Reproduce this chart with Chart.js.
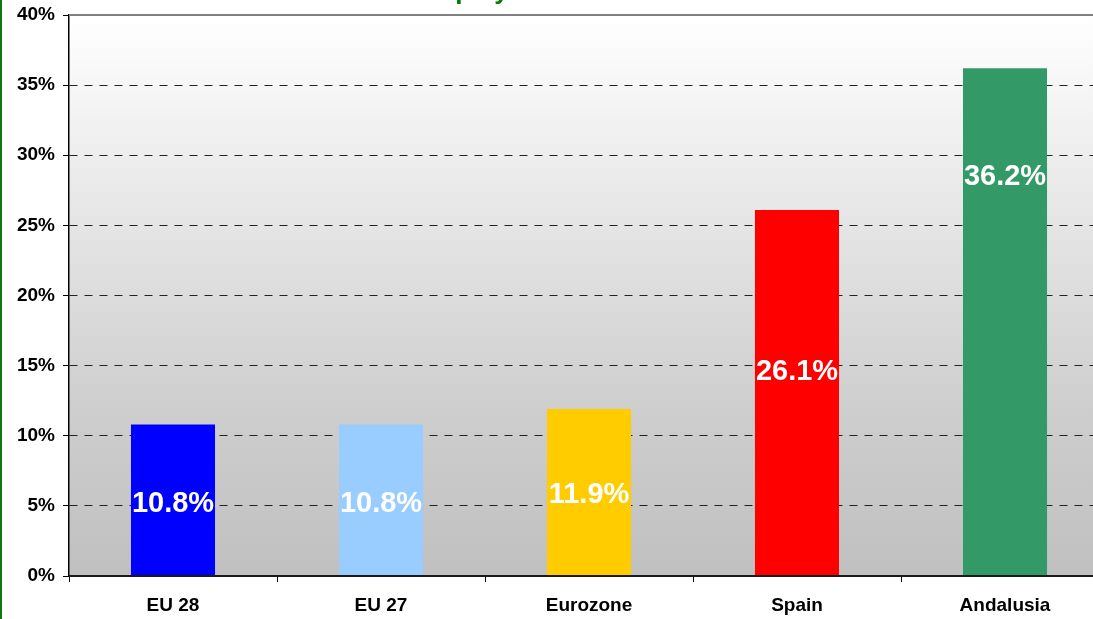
<!DOCTYPE html>
<html lang="en">
  <head>
    <meta charset="UTF-8" />
    <title>Unemployment rate</title>
    <script src="https://cdn.jsdelivr.net/npm/chart.js@4"></script>
    <style>
      body { margin: 0; overflow: hidden; background: #fff; }
      #wrap { position: relative; width: 1093px; height: 619px; overflow: hidden; }
      #edge { position: absolute; left: 0; top: 0; width: 2px; height: 619px; background: #0b7a0b; }
    </style>
  </head>
  <body>
    <div id="wrap">
      <canvas id="myChart" width="1120" height="619"></canvas>
      <div id="edge"></div>
    </div>

    <script>
      const regions = ['EU 28', 'EU 27', 'Eurozone', 'Spain', 'Andalusia'];
      const rates = [10.8, 10.8, 11.9, 26.1, 36.2];
      const barColors = ['#0000ff', '#99ccff', '#ffcc00', '#ff0000', '#339966'];
      const yTicks = [0, 5, 10, 15, 20, 25, 30, 35, 40];

      const fontFamily = 'Arial, "Liberation Sans", sans-serif';

      // gray-to-white backdrop, top border, axis line, value labels and the cut-off title
      const decor = {
        id: 'decor',
        beforeDraw(chart) {
          const { ctx, chartArea: a } = chart;
          const g = ctx.createLinearGradient(0, a.top, 0, a.bottom);
          g.addColorStop(0, '#ffffff');
          g.addColorStop(0.7, '#cecece');
          g.addColorStop(1, '#c0c0c0');
          ctx.save();
          ctx.fillStyle = g;
          ctx.fillRect(a.left, a.top, a.right - a.left, a.bottom - a.top);
          ctx.restore();
        },
        afterDraw(chart, args, opts) {
          const { ctx, chartArea: a } = chart;
          ctx.save();
          ctx.strokeStyle = '#808080';
          ctx.lineWidth = 2;
          ctx.beginPath();
          ctx.moveTo(a.left, a.top);
          ctx.lineTo(a.right, a.top);
          ctx.stroke();

          ctx.strokeStyle = '#1a1a1a';
          ctx.lineWidth = 2;
          ctx.beginPath();
          ctx.moveTo(a.left, a.bottom);
          ctx.lineTo(a.right, a.bottom);
          ctx.stroke();

          const meta = chart.getDatasetMeta(0);
          const y = chart.scales.y;
          ctx.fillStyle = '#ffffff';
          ctx.font = 'bold 29px ' + fontFamily;
          ctx.textAlign = 'center';
          ctx.textBaseline = 'middle';
          meta.data.forEach((bar, i) => {
            ctx.fillText(rates[i].toFixed(1) + '%', bar.x, y.getPixelForValue(opts.labelAt[i]));
          });

          ctx.fillStyle = '#008000';
          ctx.font = 'bold 26px ' + fontFamily;
          ctx.textAlign = 'left';
          ctx.textBaseline = 'alphabetic';
          ctx.fillText('Unemployment rate', 383, -1);
          ctx.restore();
        }
      };

      const ctx = document.getElementById('myChart').getContext('2d');
      const myChart = new Chart(ctx, {
        type: 'bar',
        data: {
          labels: regions,
          datasets: [
            {
              data: rates,
              backgroundColor: barColors,
              borderWidth: 0,
              barPercentage: 0.404,
              categoryPercentage: 1
            }
          ]
        },
        options: {
          responsive: false,
          animation: false,
          layout: { padding: { left: 0, top: 15, right: 11, bottom: 0 } },
          plugins: {
            legend: { display: false },
            tooltip: { enabled: false },
            decor: { labelAt: [5.1, 5.1, 5.8, 14.55, 28.45] }
          },
          scales: {
            x: {
              grid: {
                display: true,
                offset: true,
                drawOnChartArea: false,
                drawTicks: true,
                tickLength: 6,
                color: '#000000'
              },
              border: { color: '#000000', width: 1.5 },
              ticks: {
                color: '#000000',
                font: { family: fontFamily, size: 19, weight: 'bold' },
                padding: 12
              },
              afterFit(scale) {
                scale.height = 43;
                scale.paddingLeft = 0;
                scale.paddingRight = 0;
              }
            },
            y: {
              min: 0,
              max: 40,
              afterBuildTicks(scale) {
                scale.ticks = yTicks.map(v => ({ value: v }));
              },
              grid: {
                color: c => (c.tick && c.tick.value === 0 ? 'rgba(0,0,0,0)' : '#222222'),
                lineWidth: 1,
                tickLength: 6,
                tickColor: '#000000',
                tickBorderDash: []
              },
              border: { color: '#000000', width: 1.5, dash: [8, 7] },
              ticks: {
                color: '#000000',
                font: { family: fontFamily, size: 19, weight: 'bold' },
                padding: 8,
                callback: v => v + '%'
              },
              afterFit(scale) {
                scale.width = 69;
                scale.paddingTop = 0;
                scale.paddingBottom = 0;
              }
            }
          }
        },
        plugins: [decor]
      });
    </script>
  </body>
</html>
